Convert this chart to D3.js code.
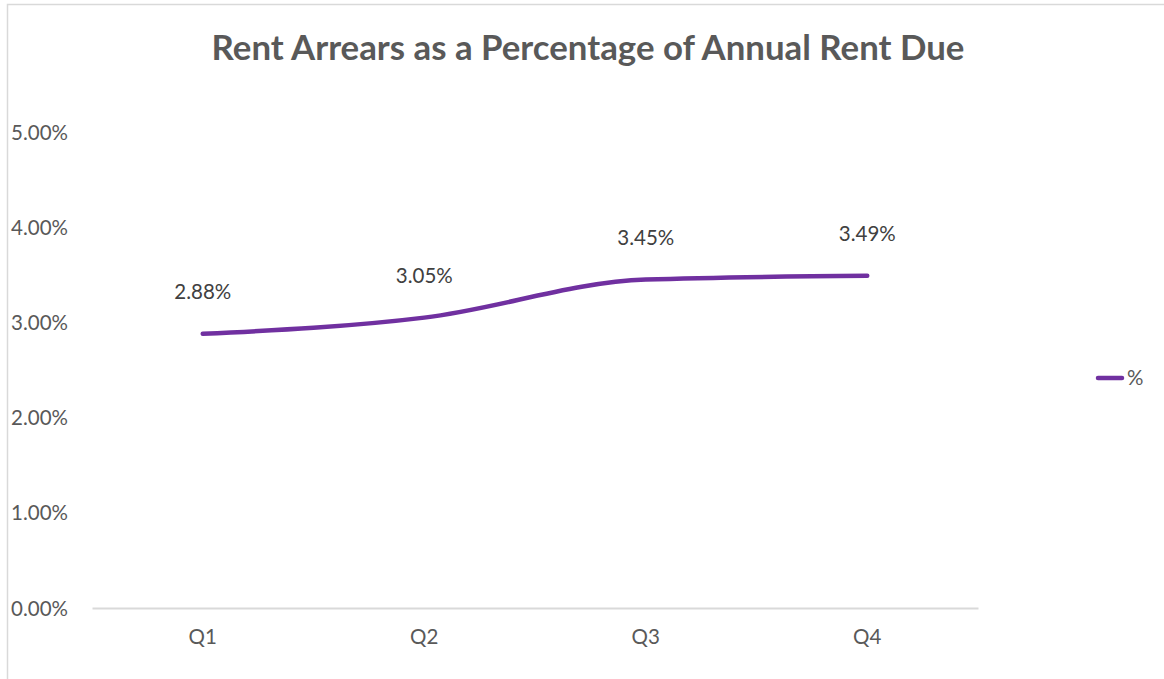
<!DOCTYPE html>
<html><head><meta charset="utf-8">
<script src="https://cdn.jsdelivr.net/npm/d3@7/dist/d3.min.js"></script>
<style>body{margin:0;background:#fff;}svg{display:block;}</style>
</head><body>
<svg id="c" width="1164" height="679"></svg>
<script>
const categories = ["Q1","Q2","Q3","Q4"];
const values = [2.88, 3.05, 3.45, 3.49];
const yTicks = [0,1,2,3,4,5];
const seriesName = "%";
const title = "Rent Arrears as a Percentage of Annual Rent Due";

const svg = d3.select("#c");
const font = "Lato, 'Open Sans', sans-serif";
// chart border
svg.append("rect").attr("x",7.5).attr("y",4.5).attr("width",1170).attr("height",690)
  .attr("fill","none").attr("stroke","#d9d9d9").attr("stroke-width",1.5);

const x = d3.scaleBand().domain(categories).range([92,978]);
const y = d3.scaleLinear().domain([0,5]).range([608,132]);

const t = svg.append("text").attr("x",588).attr("y",60).attr("text-anchor","middle")
  .attr("font-family",font).attr("font-weight","bold").attr("font-size",32)
  .attr("fill","#595959").text(title);
const tw = t.node().getComputedTextLength();
t.attr("font-size", 32*753/tw);

// y axis labels
const yAxis = d3.axisLeft(y).tickValues(yTicks).tickSize(0).tickFormat(d=>d3.format(".2f")(d)+"%");
const ya = svg.append("g").attr("transform","translate(68,0)").call(yAxis);
ya.select(".domain").remove();
ya.selectAll("text").attr("x",0).attr("text-anchor","end").attr("dy","0.35em")
  .attr("font-family",font).attr("font-size",20.5).attr("fill","#595959");

// x axis
const xAxis = d3.axisBottom(x).tickSize(0).tickPadding(0);
const xa = svg.append("g").attr("transform","translate(0,608)").call(xAxis);
xa.select(".domain").attr("stroke","#d9d9d9").attr("stroke-width",2);
xa.selectAll("text").attr("y",29).attr("dy","0.35em")
  .attr("font-family",font).attr("font-size",20.5).attr("fill","#595959");

const cx = d=>x(d)+x.bandwidth()/2;
const line = d3.line().x((d,i)=>cx(categories[i])).y(d=>y(d)).curve(d3.curveMonotoneX);
svg.append("path").datum(values).attr("d",line).attr("fill","none")
  .attr("stroke","#7030a0").attr("stroke-width",4.5).attr("stroke-linecap","round").attr("stroke-linejoin","round");

svg.selectAll(".lbl").data(values).enter().append("text").attr("class","lbl")
  .attr("x",(d,i)=>cx(categories[i])).attr("y",d=>y(d)-42).attr("dy","0.35em")
  .attr("text-anchor","middle").attr("font-family",font).attr("font-size",20.5).attr("fill","#404040")
  .text(d=>d3.format(".2f")(d)+"%");

// legend
svg.append("line").attr("x1",1098).attr("x2",1122).attr("y1",378).attr("y2",378)
  .attr("stroke","#7030a0").attr("stroke-width",4.5).attr("stroke-linecap","round");
svg.append("text").attr("x",1127).attr("y",378).attr("dy","0.35em").attr("font-family",font)
  .attr("font-size",20.5).attr("fill","#595959").text(seriesName);
</script>
</body></html>
